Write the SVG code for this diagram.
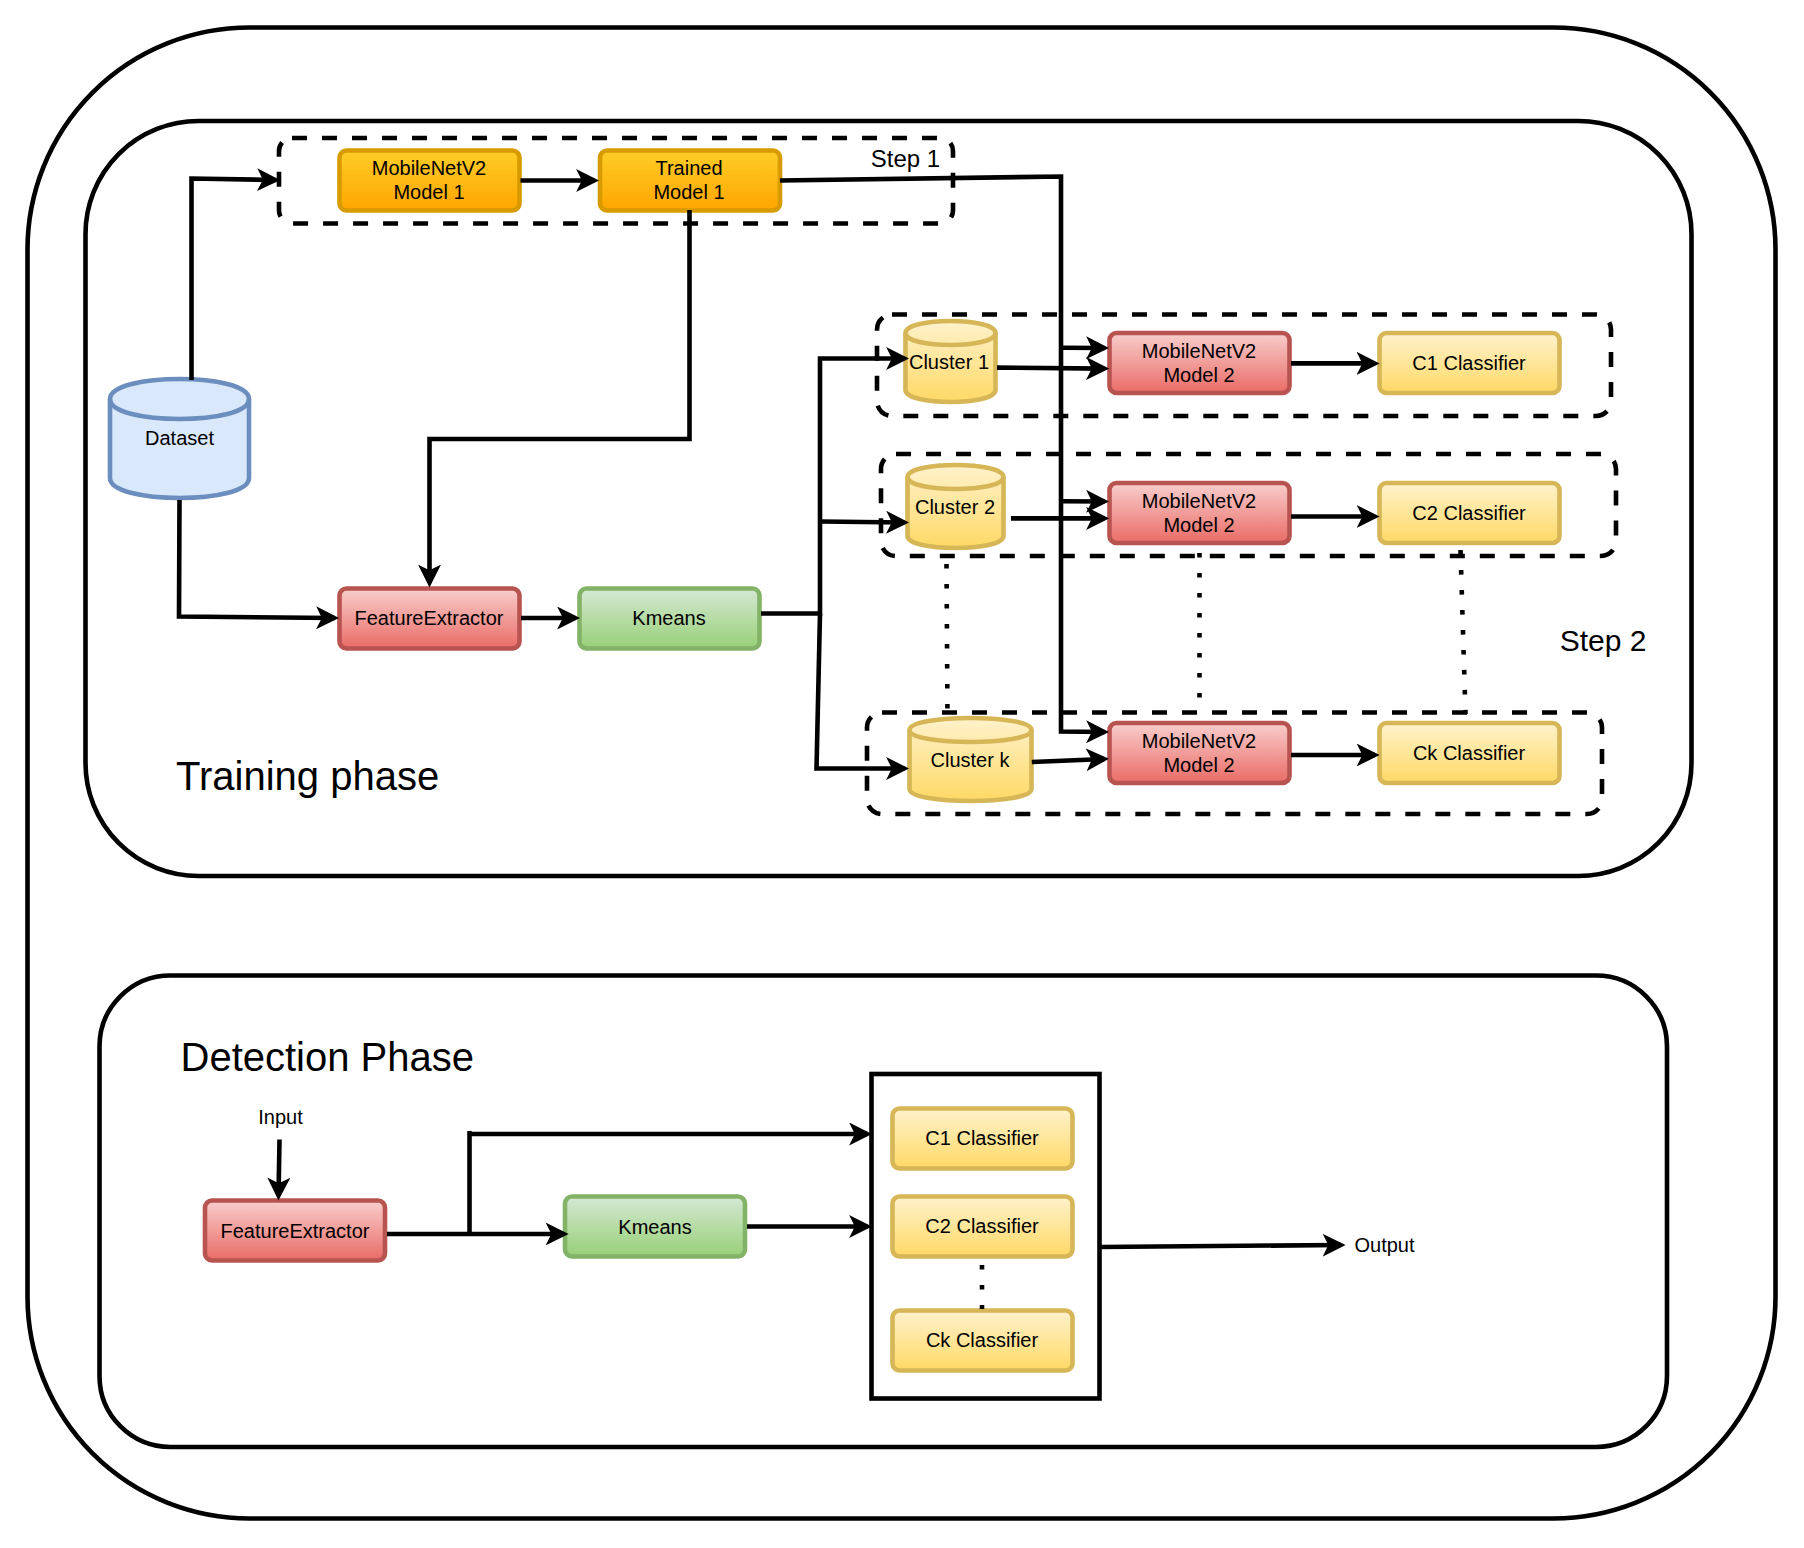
<svg xmlns="http://www.w3.org/2000/svg" width="1804" height="1548" viewBox="0 0 1804 1548">
<defs>
<linearGradient id="gOrange" x1="0" y1="0" x2="0" y2="1"><stop offset="0" stop-color="#ffcd28"/><stop offset="1" stop-color="#ffa500"/></linearGradient>
<linearGradient id="gYellow" x1="0" y1="0" x2="0" y2="1"><stop offset="0" stop-color="#fff2cc"/><stop offset="1" stop-color="#ffd966"/></linearGradient>
<linearGradient id="gRed" x1="0" y1="0" x2="0" y2="1"><stop offset="0" stop-color="#f8cecc"/><stop offset="1" stop-color="#ea6b66"/></linearGradient>
<linearGradient id="gGreen" x1="0" y1="0" x2="0" y2="1"><stop offset="0" stop-color="#d5e8d4"/><stop offset="1" stop-color="#97d077"/></linearGradient>
<marker id="arrow" markerUnits="userSpaceOnUse" markerWidth="23" markerHeight="23" viewBox="0 0 20 20" refX="16" refY="10" orient="auto"><path d="M20 10L0 0L5 10L0 20Z" fill="#000"/></marker>
</defs>
<style>
text{font-family:"Liberation Sans",Arial,sans-serif;fill:#000;text-anchor:middle;font-size:20px}
.panel{fill:none;stroke:#000;stroke-width:4.6}
.dash{fill:none;stroke:#000;stroke-width:4.6;stroke-dasharray:15 15}
.box{stroke-width:4.6}
.orange{fill:url(#gOrange);stroke:#d79b00}
.yellow{fill:url(#gYellow);stroke:#d6b656}
.red{fill:url(#gRed);stroke:#b85450}
.green{fill:url(#gGreen);stroke:#82b366}
.blue{fill:#dae8fc;stroke:#6c8ebf}
.lid{fill:none;stroke-width:4.6}
.big{font-size:40px;text-anchor:start}
#connectors path{fill:none;stroke:#000;stroke-width:4.6}
#connectors .a{marker-end:url(#arrow)}
#connectors .d{stroke-dasharray:4.6 15.4}
</style>

<g id="outer-frame"><rect class="panel" x="27.5" y="27.5" width="1748" height="1491" rx="222" ry="222"/></g>
<g id="training-phase"><rect class="panel" x="85.5" y="121" width="1606" height="755" rx="113" ry="113"/><text class="big" x="176" y="790">Training phase</text></g>
<g id="detection-phase"><rect class="panel" x="99.5" y="975.5" width="1567.5" height="471.5" rx="71" ry="71"/><text class="big" x="180.5" y="1071">Detection Phase</text></g>

<g id="step1"><rect class="dash" x="279" y="138" width="674" height="85.5" rx="13" ry="13"/><text x="905.5" y="167" style="font-size:24px">Step 1</text></g>
<g id="step2-c1"><rect class="dash" x="877" y="314.5" width="734" height="101.5" rx="15" ry="15"/></g>
<g id="step2-c2"><rect class="dash" x="881" y="454" width="735" height="102" rx="15" ry="15"/></g>
<g id="step2-ck"><rect class="dash" x="867" y="712.5" width="735" height="101.5" rx="15" ry="15"/></g>
<g id="step2-label"><text x="1603" y="650.5" style="font-size:30px">Step 2</text></g>

<g id="dataset" transform="translate(110,379)"><path class="box blue" d="M0 20c0-26.67 139-26.67 139 0V99c0 26.67-139 26.67-139 0Z"/><path class="lid" stroke="#6c8ebf" d="M0 20c0 26.67 139 26.67 139 0"/><text x="69.5" y="66">Dataset</text></g>

<g id="mobilenet-model1"><rect class="box orange" x="339.5" y="150.5" width="180" height="60" rx="7"/><text x="429" y="174.5">MobileNetV2</text><text x="429" y="198.5">Model 1</text></g>
<g id="trained-model1"><rect class="box orange" x="600" y="150.5" width="180" height="60" rx="7"/><text x="689" y="174.5">Trained</text><text x="689" y="198.5">Model 1</text></g>
<g id="feature-extractor"><rect class="box red" x="339.5" y="588.5" width="180" height="60" rx="7"/><text x="429" y="625">FeatureExtractor</text></g>
<g id="kmeans"><rect class="box green" x="579.5" y="588.5" width="180" height="60" rx="7"/><text x="669" y="625">Kmeans</text></g>

<g id="cluster1" transform="translate(905.5,321)"><path class="box yellow" d="M0 12c0-16 90-16 90 0V69c0 16-90 16-90 0Z"/><path class="lid" stroke="#d6b656" d="M0 12c0 16 90 16 90 0"/><text x="43.5" y="48">Cluster 1</text></g>
<g id="cluster2" transform="translate(907.5,465)"><path class="box yellow" d="M0 12c0-16 96-16 96 0V71c0 16-96 16-96 0Z"/><path class="lid" stroke="#d6b656" d="M0 12c0 16 96 16 96 0"/><text x="47.5" y="49">Cluster 2</text></g>
<g id="clusterk" transform="translate(909.5,718)"><path class="box yellow" d="M0 12c0-16 122-16 122 0V71c0 16-122 16-122 0Z"/><path class="lid" stroke="#d6b656" d="M0 12c0 16 122 16 122 0"/><text x="60.5" y="48.5">Cluster k</text></g>

<g id="model2-1"><rect class="box red" x="1109.5" y="333" width="180" height="60" rx="7"/><text x="1199" y="358">MobileNetV2</text><text x="1199" y="382">Model 2</text></g>
<g id="model2-2"><rect class="box red" x="1109.5" y="483" width="180" height="60" rx="7"/><text x="1199" y="508">MobileNetV2</text><text x="1199" y="532">Model 2</text></g>
<g id="model2-k"><rect class="box red" x="1109.5" y="723" width="180" height="60" rx="7"/><text x="1199" y="747.5">MobileNetV2</text><text x="1199" y="771.5">Model 2</text></g>
<g id="classifier-c1"><rect class="box yellow" x="1379.5" y="333" width="180" height="60" rx="7"/><text x="1469" y="370">C1 Classifier</text></g>
<g id="classifier-c2"><rect class="box yellow" x="1379.5" y="483" width="180" height="60" rx="7"/><text x="1469" y="520">C2 Classifier</text></g>
<g id="classifier-ck"><rect class="box yellow" x="1379.5" y="723" width="180" height="60" rx="7"/><text x="1469" y="759.5">Ck Classifier</text></g>

<g id="input-label"><text x="280.5" y="1123.5">Input</text></g>
<g id="det-feature-extractor"><rect class="box red" x="205" y="1200.5" width="180" height="60" rx="7"/><text x="295" y="1237.5">FeatureExtractor</text></g>
<g id="det-kmeans"><rect class="box green" x="565" y="1196.5" width="180" height="60" rx="7"/><text x="655" y="1234">Kmeans</text></g>
<g id="det-classifiers"><rect x="871.5" y="1074" width="228" height="324.5" fill="none" stroke="#000" stroke-width="4.6"/></g>
<g id="det-c1"><rect class="box yellow" x="892.5" y="1108.5" width="180" height="60" rx="7"/><text x="982" y="1145">C1 Classifier</text></g>
<g id="det-c2"><rect class="box yellow" x="892.5" y="1196.5" width="180" height="60" rx="7"/><text x="982" y="1233">C2 Classifier</text></g>
<g id="det-ck"><rect class="box yellow" x="892.5" y="1310.5" width="180" height="60" rx="7"/><text x="982" y="1347">Ck Classifier</text></g>
<g id="output-label"><text x="1384.5" y="1252">Output</text></g>

<g id="connectors">
<path class="a" d="M191.5 380V178.5L275.5 180"/>
<path class="a" d="M520.5 180.5H594.5"/>
<path class="a" d="M780 180.5L1061 176.5V731.5L1104.5 732"/>
<path class="a" d="M689.5 210V439H429.5V583"/>
<path class="a" d="M179.5 500L179 616.5L334.5 618"/>
<path class="a" d="M521 618H575.5"/>
<path class="a" d="M761 613.5H820V358.5H904.5"/>
<path class="a" d="M820 613.5L816.5 768.5H904.5"/>
<path class="a" d="M821 521.5L904.5 522.5"/>
<path class="a" d="M997 367.6L1104.5 368.6"/>
<path class="a" d="M1061 347.7L1104.5 348"/>
<path class="a" d="M1011 518.4H1104.5"/>
<path class="a" d="M1061 501.2L1104.5 501.5"/>
<path class="a" d="M1031.8 762L1104.5 759"/>
<path class="a" d="M1291 363.4H1375"/>
<path class="a" d="M1291 516.5H1375"/>
<path class="a" d="M1291 755H1375"/>
<path class="d" d="M946.5 564L947.5 716"/>
<path class="d" d="M1199.5 553V700"/>
<path class="d" d="M1460.5 550L1465.5 714"/>
<path class="a" d="M279.5 1139.5L278.5 1196"/>
<path class="a" d="M387 1234H564"/>
<path d="M469.5 1234V1131"/>
<path class="a" d="M469.5 1134H867.5"/>
<path class="a" d="M747 1226.5H867.5"/>
<path class="a" d="M1100 1247L1341 1245"/>
<path class="d" d="M982 1265V1309"/>
</g>
</svg>
